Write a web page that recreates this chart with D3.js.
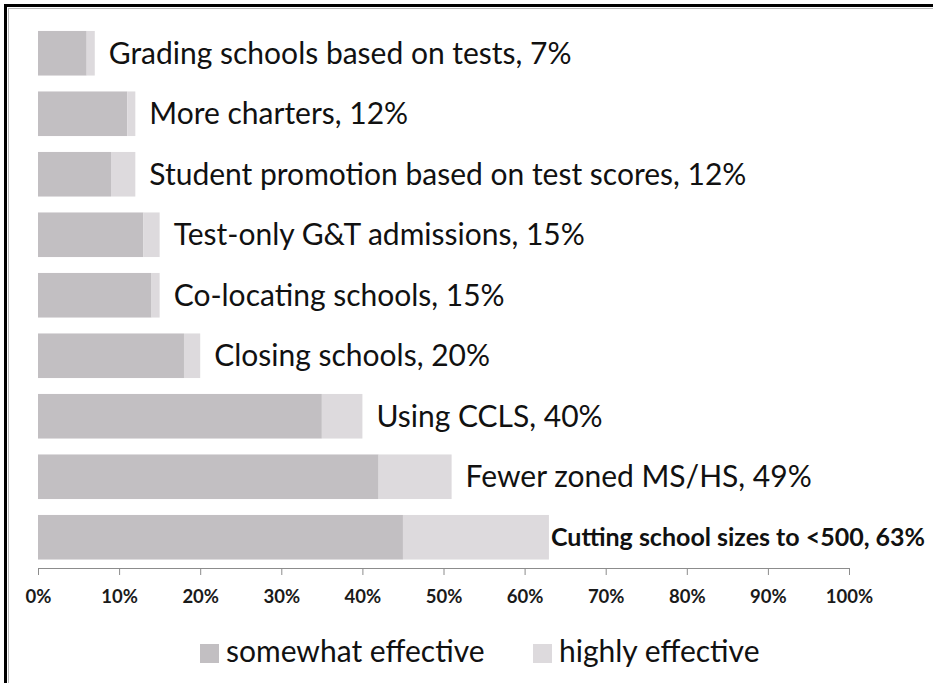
<!DOCTYPE html>
<html>
<head>
<meta charset="utf-8">
<script src="https://cdn.jsdelivr.net/npm/d3@7"></script>
<style>
  html, body { margin: 0; padding: 0; background: #fff; }
  svg { display: block; }
</style>
</head>
<body>
<svg id="chart" width="933" height="683"></svg>
<script>
// ---- data ----
const categories = [
  "Grading schools based on tests",
  "More charters",
  "Student promotion based on test scores",
  "Test-only G&T admissions",
  "Co-locating schools",
  "Closing schools",
  "Using CCLS",
  "Fewer zoned MS/HS",
  "Cutting school sizes to <500"
];
const labelPercents = ["7%", "12%", "12%", "15%", "15%", "20%", "40%", "49%", "63%"];
const somewhatEffective = [6, 11, 9, 13, 14, 18, 35, 42, 45];
const highlyEffective   = [1, 1, 3, 2, 1, 2, 5, 9, 18];
const seriesNames = ["somewhat effective", "highly effective"];
const tickValues = [0, 10, 20, 30, 40, 50, 60, 70, 80, 90, 100];

// ---- setup ----
const svg = d3.select("#chart");
const FONT = "Lato, 'Open Sans', 'DejaVu Sans', sans-serif";
const colors = { "somewhat effective": "#c2bfc2", "highly effective": "#dddadd" };

const rows = categories.map((c, i) => ({
  category: c,
  "somewhat effective": somewhatEffective[i],
  "highly effective": highlyEffective[i],
  label: c + ", " + labelPercents[i]
}));

const x = d3.scaleLinear().domain([0, 100]).range([38, 849]);
const y = d3.scaleBand().domain(categories).range([23, 567.5])
  .paddingInner(0.263).paddingOuter(0.1315);

// frame (cropped border)
svg.append("rect").attr("x", 0).attr("y", 0).attr("width", 933).attr("height", 683).attr("fill", "#fff");
svg.append("line").attr("x1", 4).attr("x2", 933).attr("y1", 5.5).attr("y2", 5.5)
  .attr("stroke", "#000").attr("stroke-width", 3);
svg.append("line").attr("x1", 5.5).attr("x2", 5.5).attr("y1", 4).attr("y2", 683)
  .attr("stroke", "#000").attr("stroke-width", 3);
svg.append("line").attr("x1", 8).attr("x2", 933).attr("y1", 8.5).attr("y2", 8.5)
  .attr("stroke", "#b8b8b8").attr("stroke-width", 1);
svg.append("line").attr("x1", 8.5).attr("x2", 8.5).attr("y1", 8).attr("y2", 683)
  .attr("stroke", "#b8b8b8").attr("stroke-width", 1);

// stacked bars
const stack = d3.stack().keys(seriesNames);
const stacked = stack(rows);

svg.append("g").selectAll("g")
  .data(stacked)
  .join("g")
  .attr("fill", d => colors[d.key])
  .selectAll("rect")
  .data(d => d)
  .join("rect")
  .attr("x", d => x(d[0]))
  .attr("y", d => y(d.data.category))
  .attr("width", d => x(d[1]) - x(d[0]))
  .attr("height", y.bandwidth());

// bar labels
const last = rows.length - 1;
svg.append("g").selectAll("text")
  .data(rows)
  .join("text")
  .attr("x", (d, i) => x(d["somewhat effective"] + d["highly effective"]) + (i === last ? 2 : 14))
  .attr("y", d => y(d.category) + y.bandwidth() / 2)
  .attr("dy", "0.35em")
  .attr("font-family", FONT)
  .attr("font-size", (d, i) => i === last ? 25 : 30)
  .attr("font-weight", (d, i) => i === last ? "bold" : "normal")
  .attr("fill", "#111")
  .text(d => d.label);

// x axis
const axis = d3.axisBottom(x).tickValues(tickValues).tickFormat(d => d + "%").tickSize(7).tickPadding(15);
const gx = svg.append("g").attr("transform", "translate(0,568)").call(axis);
gx.select(".domain").attr("stroke", "#8c8c8c").attr("d", "M38,0.5H849");
gx.selectAll(".tick line").attr("stroke", "#8c8c8c");
gx.selectAll(".tick text")
  .attr("font-family", FONT).attr("font-size", 18.5).attr("font-weight", "bold").attr("fill", "#1a1a1a");

// legend
const legend = svg.append("g");
const legendX = [200, 533];
seriesNames.forEach((name, i) => {
  const g = legend.append("g").attr("transform", `translate(${legendX[i]},644)`);
  g.append("rect").attr("width", 19).attr("height", 19).attr("fill", colors[name]);
  g.append("text").attr("x", 26).attr("y", 7).attr("dy", "0.35em")
    .attr("font-family", FONT).attr("font-size", 30).attr("fill", "#111")
    .text(name);
});
</script>
</body>
</html>
